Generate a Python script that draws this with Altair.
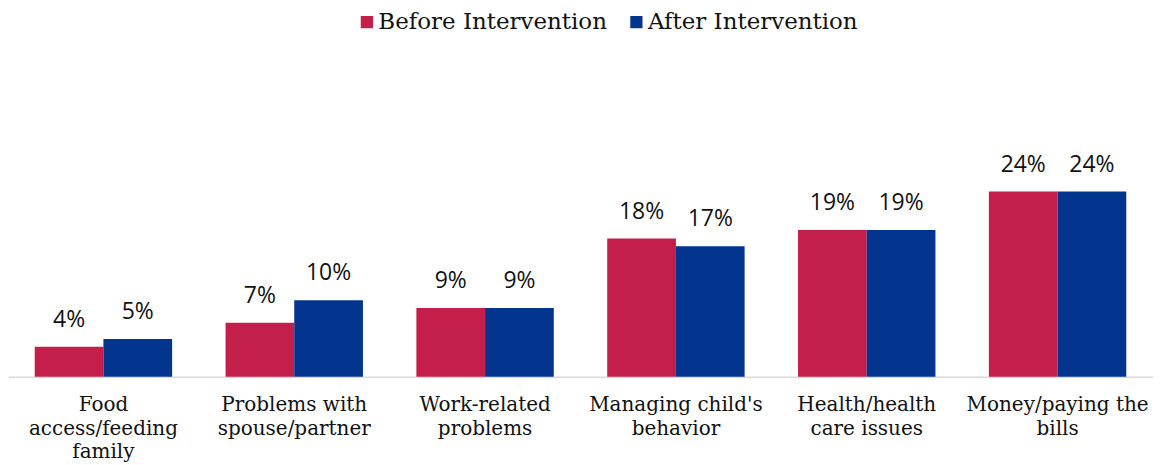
import altair as alt
import pandas as pd

categories = [
    "Food|access/feeding|family",
    "Problems with|spouse/partner",
    "Work-related|problems",
    "Managing child's|behavior",
    "Health/health|care issues",
    "Money/paying the|bills",
]
series = ["Before Intervention", "After Intervention"]
before = [3.9, 7.0, 8.9, 17.9, 19.0, 24.0]
after = [4.9, 9.9, 8.9, 16.9, 19.0, 24.0]
before_labels = ["4%", "7%", "9%", "18%", "19%", "24%"]
after_labels = ["5%", "10%", "9%", "17%", "19%", "24%"]
colors = ["#C41E4A", "#03358F"]

rows = []
for c, b, a, bl, al in zip(categories, before, after, before_labels, after_labels):
    rows.append({"cat": c, "series": series[0], "value": b, "label": bl})
    rows.append({"cat": c, "series": series[1], "value": a, "label": al})
df = pd.DataFrame(rows)

x = alt.X(
    "cat:N",
    sort=categories,
    title=None,
    scale=alt.Scale(paddingInner=0.28, paddingOuter=0.14),
    axis=alt.Axis(
        labelExpr="split(datum.label, '|')",
        labelAngle=0,
        labelFont="DejaVu Serif",
        labelFontSize=20,
        labelColor="#111111",
        labelLineHeight=23.5,
        labelPadding=18,
        labelBaseline="top",
        ticks=False,
        domainColor="#d9d9d9",
        domainWidth=1.5,
        labelLimit=300,
    ),
)
y = alt.Y(
    "value:Q",
    scale=alt.Scale(domain=[0, 30], nice=False),
    axis=None,
)
xoff = alt.XOffset("series:N", sort=series)

bars = alt.Chart(df).mark_bar().encode(
    x=x,
    y=y,
    xOffset=xoff,
    color=alt.Color(
        "series:N",
        sort=series,
        scale=alt.Scale(domain=series, range=colors),
        legend=alt.Legend(
            title=None,
            orient="none",
            direction="horizontal",
            legendX=348,
            legendY=-135,
            symbolType="square",
            symbolSize=150,
            symbolStrokeWidth=0,
            labelFont="DejaVu Serif",
            labelFontSize=23,
            labelColor="#111111",
            labelLimit=400,
            columnPadding=17,
            labelOffset=0,
        ),
    ),
)

text = alt.Chart(df).mark_text(
    dy=-15, font="Open Sans", fontSize=23, color="#111111", baseline="bottom"
).encode(
    x=x,
    y=y,
    xOffset=xoff,
    text="label:N",
)

chart = (
    alt.layer(bars, text)
    .properties(width=1147, height=232, padding={"top": 2, "left": 0, "right": 0, "bottom": 0})
    .configure_view(stroke=None)
    .configure_scale(offsetBandPaddingInner=0)
)

chart.save("out.html", embed_options={"renderer": "svg", "actions": False})
